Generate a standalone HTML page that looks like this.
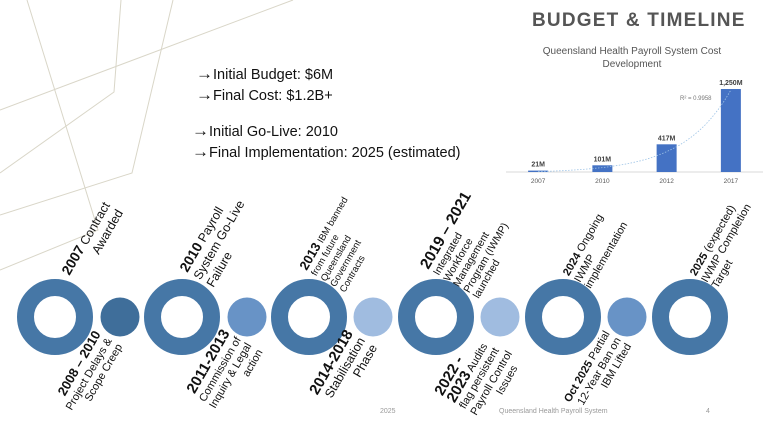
<!DOCTYPE html>
<html><head><meta charset="utf-8"><style>
body{margin:0;}
#slide{position:relative;width:768px;height:432px;background:#fff;overflow:hidden;font-family:"Liberation Sans","DejaVu Sans",sans-serif;color:#111;}
.w{position:absolute;width:0;height:0;}
.l{position:absolute;left:0;top:0;transform-origin:0 0;transform:rotate(-60deg);white-space:nowrap;font-size:11px;line-height:13px;}
.r{position:absolute;right:0;top:0;transform-origin:100% 0;transform:rotate(-60deg);white-space:nowrap;text-align:right;font-size:11px;line-height:13px;}
b{font-weight:bold;}
.bullets{position:absolute;left:196px;font-size:14.5px;color:#111;}
.bullets span{font-size:17px;}
</style></head><body>
<div id="slide">
<svg width="768" height="432" style="position:absolute;left:0;top:0">
<g fill="none" stroke="#d9d6c8" stroke-width="1">
<polyline points="27,0 98,230 0,270"/>
<polyline points="121,0 114,92 0,173"/>
<polyline points="173,0 132,173 0,215"/>
<line x1="293" y1="0" x2="0" y2="110"/>
</g>
</svg>

<div style="position:absolute;left:532px;top:10px;font-size:19px;font-weight:bold;letter-spacing:1.2px;color:#555;">BUDGET &amp; TIMELINE</div>

<div class="bullets" style="top:64px"><span>→</span>Initial Budget: $6M</div>
<div class="bullets" style="top:85px"><span>→</span>Final Cost: $1.2B+</div>
<div class="bullets" style="top:121px;left:192px"><span>→</span>Initial Go-Live: 2010</div>
<div class="bullets" style="top:142px;left:192px"><span>→</span>Final Implementation: 2025 (estimated)</div>

<svg id="chart" width="768" height="432" style="position:absolute;left:0;top:0"></svg>

<svg id="tl" width="768" height="432" style="position:absolute;left:0;top:0"></svg>

<div class="w" style="left:59px;top:270px"><div class="l" style="font-size:12.5px;line-height:15px;text-align:right"><b style="font-size:14px">2007</b> Contract<br>Awarded</div></div>
<div class="w" style="left:177px;top:267px"><div class="l" style="font-size:12.5px;line-height:15px"><b style="font-size:14px">2010</b> Payroll<br>System Go-Live<br>Failure</div></div>
<div class="w" style="left:298px;top:266px"><div class="l" style="font-size:9.5px;line-height:11px"><b style="font-size:13px">2013</b> IBM banned<br>from future<br>Queensland<br>Government<br>Contracts</div></div>
<div class="w" style="left:418px;top:264px"><div class="l" style="font-size:10.5px;line-height:11.5px"><b style="font-size:15.5px;line-height:16px">2019 – 2021</b><br>Integrated<br>Workforce<br>Management<br>Program (IWMP)<br>launched</div></div>
<div class="w" style="left:561px;top:272px"><div class="l" style="font-size:11px;line-height:12.5px"><b>2024</b> Ongoing<br>IWMP<br>implementation</div></div>
<div class="w" style="left:688px;top:272px"><div class="l" style="font-size:11px;line-height:12.5px"><b>2025</b> (expected)<br>IWMP Completion<br>Target</div></div>

<div class="w" style="left:92px;top:329px"><div class="r" style="font-size:11px;line-height:12.5px"><b style="font-size:13px">2008 – 2010</b><br>Project Delays &amp;<br>Scope Creep</div></div>
<div class="w" style="left:221px;top:328px"><div class="r" style="font-size:11px;line-height:12.5px"><b style="font-size:15px">2011-2013</b><br>Commission of<br>Inquiry &amp; Legal<br>action</div></div>
<div class="w" style="left:344px;top:328px"><div class="r" style="font-size:12.5px;line-height:14px"><b style="font-size:15px">2014-2018</b><br>Stabilisation<br>Phase</div></div>
<div class="w" style="left:468px;top:328px"><div class="r" style="font-size:11px;line-height:12.5px;text-align:left"><b style="font-size:15px;line-height:15px">2022 -</b><br><b style="font-size:15px">2023</b> Audits<br>flag persistent<br>Payroll Control<br>&nbsp;&nbsp;&nbsp;&nbsp;&nbsp;&nbsp;&nbsp;&nbsp;&nbsp;&nbsp;Issues</div></div>
<div class="w" style="left:602px;top:329px"><div class="r" style="font-size:11px;line-height:12.5px"><b>Oct 2025</b> Partial<br>12-Year Ban on<br>IBM Lifted</div></div>

<div style="position:absolute;left:380px;top:408px;font-size:7px;color:#999">2025</div>
<div style="position:absolute;left:499px;top:408px;font-size:7px;color:#999">Queensland Health Payroll System</div>
<div style="position:absolute;left:706px;top:408px;font-size:7px;color:#999">4</div>
</div>
<script>
const categories = ["2007","2010","2012","2017"];
const costValues = [21,101,417,1250];
const costLabels = ["21M","101M","417M","1,250M"];
const NS="http://www.w3.org/2000/svg";
const svg=document.getElementById('chart');
function mk(tag,attrs,parent){const e=document.createElementNS(NS,tag);for(const k in attrs)e.setAttribute(k,attrs[k]);(parent||svg).appendChild(e);return e;}
const x0=506,x1=763,base=172,scale=83/1250,bw=20;
const band=(x1-x0)/categories.length;
function xs(i){return x0+band*(i+0.5);}
function ys(v){return base-v*scale;}
let t=mk('text',{x:632,y:54,'text-anchor':'middle','font-size':'10','fill':'#555'});t.textContent='Queensland Health Payroll System Cost';


t=mk('text',{x:632,y:67,'text-anchor':'middle','font-size':'10','fill':'#555'});t.textContent='Development';


const ax=mk('line',{x1:x0,x2:x1,y1:base,y2:base,stroke:'#d9d9d9'});


categories.forEach((c,i)=>{
  const v=costValues[i];
  const r=mk('rect',{x:xs(i)-bw/2,y:ys(v),width:bw,height:base-ys(v),fill:'#4472c4'});
  
  
  const l=mk('text',{x:xs(i),y:ys(v)-4,'text-anchor':'middle','font-size':'7','font-weight':'bold','fill':'#404040'});l.textContent=costLabels[i];
  
  
  const tk=mk('text',{x:xs(i),y:base+11,'text-anchor':'middle','font-size':'6.5','fill':'#595959'});tk.textContent=c;
  
  
});
let d='';for(let k=0;k<=30;k++){const u=k/30*3;const xx=xs(0)+u*band;
 const v=Math.max(0,Math.exp(Math.log(costValues[0])+(Math.log(costValues[3])-Math.log(costValues[0]))*u/3)-15);
 d+=(k?'L':'M')+xx.toFixed(1)+','+ys(v).toFixed(1);}
const tr=mk('path',{d:d,fill:'none',stroke:'#9dc3e6','stroke-width':'0.8','stroke-dasharray':'1.5,1.5'});


const rt=mk('text',{x:680,y:100,'font-size':'6','fill':'#777'});rt.textContent='R² = 0.9958';



const tl=document.getElementById('tl');
const ringX=[55,182,309,436,563,690];
const dotX=[120,247,373,500,627];
const dotColors=['#3f6e9a','#6893c6','#a0bce0','#a0bce0','#6893c6'];
const cy=317;
ringX.forEach((x,i)=>{const c=document.createElementNS(NS,'circle');c.setAttribute('cx',x);c.setAttribute('cy',cy);c.setAttribute('r',29.5);c.setAttribute('fill','none');c.setAttribute('stroke','#4677a6');c.setAttribute('stroke-width','17');


tl.appendChild(c);});
dotX.forEach((x,i)=>{const c=document.createElementNS(NS,'circle');c.setAttribute('cx',x);c.setAttribute('cy',cy);c.setAttribute('r',19.5);c.setAttribute('fill',dotColors[i]);


tl.appendChild(c);});
</script>
</body></html>
